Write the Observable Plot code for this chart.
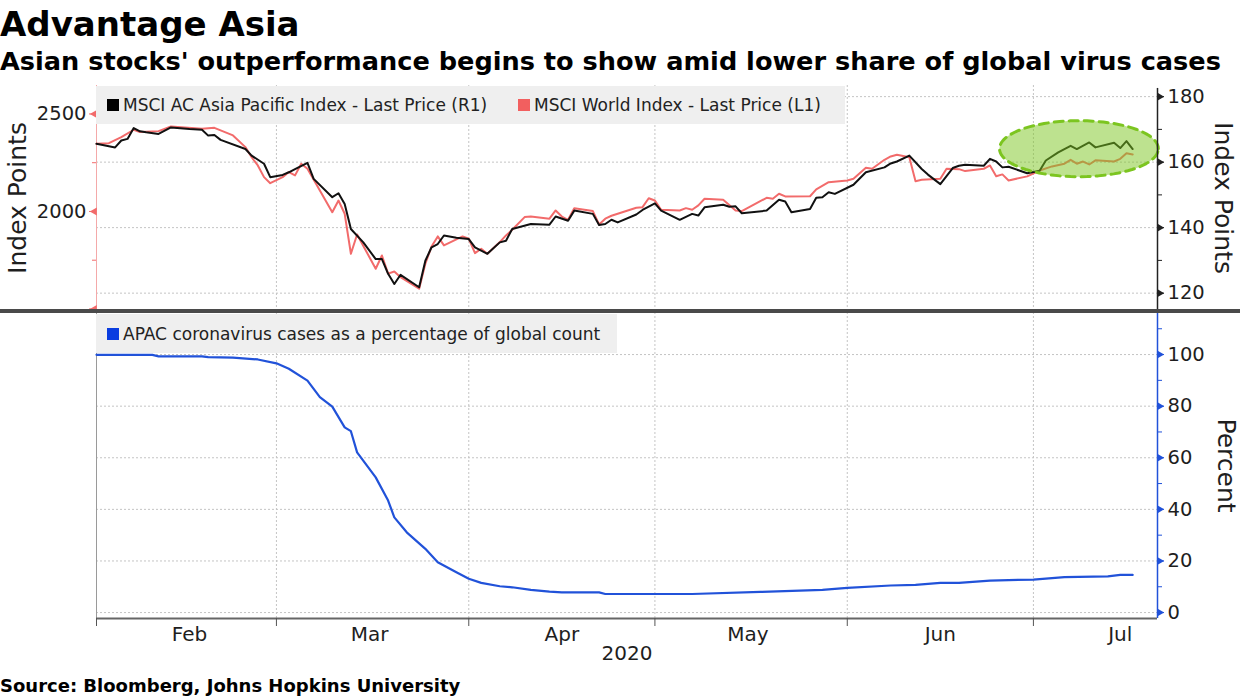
<!DOCTYPE html>
<html>
<head>
<meta charset="utf-8">
<script src="https://cdn.jsdelivr.net/npm/d3@7"></script>
<script src="https://cdn.jsdelivr.net/npm/@observablehq/plot@0.6"></script>
<style>
  body { margin: 0; background: #fff; }
  #wrap { position: relative; width: 1240px; height: 697px; overflow: hidden; background: #fff; }
  .abs { position: absolute; }
  #title { left: 0; top: 4px; font: bold 34px "DejaVu Sans", sans-serif; line-height: 40px; color: #000; white-space: nowrap; }
  #subtitle { left: 0; top: 46px; font: bold 25.6px "DejaVu Sans", sans-serif; line-height: 30px; color: #000; white-space: nowrap; }
  #source { left: 0; top: 673px; font: bold 18px "DejaVu Sans", sans-serif; line-height: 26px; color: #000; white-space: nowrap; }
  .legend { background: #efefef; display: flex; align-items: center; font: 17px "DejaVu Sans", sans-serif; color: #222; white-space: nowrap; }
  .sw { display: inline-block; width: 12px; height: 12px; margin: 0 4px 0 11px; flex: none; }
  #sep { left: 0; top: 309px; width: 1240px; height: 4px; background: #4a4a4a; }
  .layer { position: absolute; left: 0; }
</style>
</head>
<body>
<div id="wrap">
  <div id="title" class="abs">Advantage Asia</div>
  <div id="subtitle" class="abs">Asian stocks' outperformance begins to show amid lower share of global virus cases</div>
  <div id="top1" class="layer" style="top:80px"></div>
  <div id="top2" class="layer" style="top:80px"></div>
  <div id="top3" class="layer" style="top:80px"></div>
  <div id="bot" class="layer" style="top:311px"></div>
  <div id="legTop" class="abs legend" style="left:96px;top:86px;width:749px;height:38px;"></div>
  <div id="legBot" class="abs legend" style="left:96px;top:314px;width:521px;height:39px;"></div>
  <div id="sep" class="abs"></div>
  <div id="source" class="abs">Source: Bloomberg, Johns Hopkins University</div>
</div>
<script>
// ---------------- DATA ----------------
const seriesNames = ["MSCI AC Asia Pacific Index - Last Price (R1)", "MSCI World Index - Last Price (L1)"];
const shareName = "APAC coronavirus cases as a percentage of global count";

const apDates = ["2020-02-01","2020-02-04","2020-02-05","2020-02-06","2020-02-07","2020-02-08","2020-02-09","2020-02-11","2020-02-13","2020-02-16",
  "2020-02-18","2020-02-19","2020-02-20","2020-02-21","2020-02-25","2020-02-26","2020-02-28","2020-02-29","2020-03-02","2020-03-03",
  "2020-03-04","2020-03-06","2020-03-07","2020-03-10","2020-03-11","2020-03-12","2020-03-13","2020-03-15","2020-03-17","2020-03-18",
  "2020-03-19","2020-03-20","2020-03-21","2020-03-24","2020-03-25","2020-03-26","2020-03-27","2020-03-28","2020-03-30","2020-04-01",
  "2020-04-02","2020-04-04","2020-04-06","2020-04-07","2020-04-08","2020-04-11","2020-04-14","2020-04-15","2020-04-17","2020-04-18",
  "2020-04-21","2020-04-22","2020-04-23","2020-04-24","2020-04-25","2020-04-28","2020-04-29","2020-05-01","2020-05-02","2020-05-05",
  "2020-05-07","2020-05-08","2020-05-09","2020-05-12","2020-05-13","2020-05-14","2020-05-15","2020-05-19","2020-05-21","2020-05-22",
  "2020-05-23","2020-05-26","2020-05-27","2020-05-28","2020-05-29","2020-05-30","2020-06-02","2020-06-04","2020-06-07","2020-06-08",
  "2020-06-09","2020-06-11","2020-06-13","2020-06-14","2020-06-16","2020-06-18","2020-06-19","2020-06-20","2020-06-23","2020-06-24",
  "2020-06-25","2020-06-26","2020-06-27","2020-06-30","2020-07-02","2020-07-03","2020-07-05","2020-07-07","2020-07-08","2020-07-10",
  "2020-07-11","2020-07-14","2020-07-15","2020-07-16","2020-07-17"];
const apValues = [165.6,164.5,166.6,167.1,170.4,169.4,169.1,168.6,170.6,170.1,
  169.9,168.1,168.3,166.8,164.0,162.0,159.5,155.4,156.1,156.9,
  157.9,159.8,154.9,149.3,150.5,147.2,139.6,135.5,130.4,130.4,
  125.9,122.8,125.6,121.8,129.9,134.0,135.0,137.6,136.9,136.5,
  134.0,132.0,135.5,136.0,139.6,141.1,140.9,143.4,142.1,145.2,
  144.2,140.8,141.1,142.4,141.6,144.0,145.4,147.4,145.2,142.4,
  144.2,143.7,146.2,147.0,146.4,146.5,144.4,145.2,148.5,148.0,
  144.7,145.7,149.1,149.3,150.8,150.3,153.1,156.9,158.4,159.6,
  160.2,162.0,157.9,156.2,153.3,158.2,158.9,159.2,158.9,161.0,
  160.2,158.4,158.6,156.6,157.4,160.5,163.0,165.0,164.0,166.0,
  164.5,165.9,164.3,166.4,164.0];

const worldDates = ["2020-02-01","2020-02-03","2020-02-05","2020-02-07","2020-02-08","2020-02-11","2020-02-13","2020-02-18","2020-02-20","2020-02-23",
  "2020-02-25","2020-02-26","2020-02-27","2020-02-28","2020-02-29","2020-03-02","2020-03-03","2020-03-04","2020-03-05","2020-03-06",
  "2020-03-10","2020-03-11","2020-03-12","2020-03-13","2020-03-14","2020-03-17","2020-03-18","2020-03-19","2020-03-20","2020-03-21",
  "2020-03-24","2020-03-25","2020-03-26","2020-03-27","2020-03-28","2020-03-31","2020-04-01","2020-04-02","2020-04-03","2020-04-04",
  "2020-04-06","2020-04-07","2020-04-08","2020-04-10","2020-04-11","2020-04-14","2020-04-15","2020-04-16","2020-04-17","2020-04-18",
  "2020-04-21","2020-04-22","2020-04-23","2020-04-24","2020-04-28","2020-04-29","2020-04-30","2020-05-01","2020-05-02","2020-05-05",
  "2020-05-06","2020-05-07","2020-05-08","2020-05-09","2020-05-12","2020-05-14","2020-05-15","2020-05-19","2020-05-20","2020-05-21",
  "2020-05-22","2020-05-26","2020-05-27","2020-05-29","2020-06-01","2020-06-02","2020-06-04","2020-06-05","2020-06-07","2020-06-08",
  "2020-06-09","2020-06-11","2020-06-12","2020-06-13","2020-06-16","2020-06-17","2020-06-19","2020-06-20","2020-06-23","2020-06-24",
  "2020-06-25","2020-06-26","2020-06-27","2020-06-30","2020-07-02","2020-07-04","2020-07-06","2020-07-07","2020-07-08","2020-07-09",
  "2020-07-10","2020-07-11","2020-07-14","2020-07-15","2020-07-16","2020-07-17"];
const worldValues = [2347,2350,2381,2419,2407,2412,2436,2424,2429,2390,
  2330,2278,2236,2176,2145,2176,2202,2185,2245,2219,
  1996,2056,1988,1783,1882,1706,1774,1681,1692,1663,
  1604,1732,1820,1872,1826,1872,1860,1786,1809,1783,
  1843,1877,1906,1971,1974,1963,2005,1974,1957,2017,
  2002,1933,1963,1978,2019,2022,2068,2056,2009,2005,
  2017,2009,2031,2065,2060,2005,2002,2070,2065,2091,
  2077,2078,2113,2150,2159,2168,2224,2219,2265,2282,
  2291,2278,2155,2163,2168,2219,2217,2207,2219,2236,
  2181,2190,2159,2180,2210,2231,2245,2265,2245,2256,
  2241,2262,2256,2270,2299,2292];

const shareDates = ["2020-02-01","2020-02-10","2020-02-11","2020-02-18","2020-02-19","2020-02-23","2020-02-27","2020-03-01","2020-03-03","2020-03-06",
  "2020-03-08","2020-03-10","2020-03-12","2020-03-13","2020-03-14","2020-03-17","2020-03-19","2020-03-20","2020-03-22","2020-03-25",
  "2020-03-27","2020-03-30","2020-04-01","2020-04-03","2020-04-06","2020-04-08","2020-04-11","2020-04-14","2020-04-16","2020-04-22",
  "2020-04-23","2020-05-07","2020-05-18","2020-05-28","2020-06-01","2020-06-08","2020-06-12","2020-06-16","2020-06-19","2020-06-24",
  "2020-07-01","2020-07-06","2020-07-13","2020-07-15","2020-07-17"];
const shareValues = [99.9,99.9,99.3,99.3,99.0,98.8,98.1,96.6,94.5,89.9,
  83.5,79.8,71.8,70.3,62.1,52.4,43.4,36.9,31.1,24.7,
  19.5,15.6,13.1,11.5,10.2,9.8,8.8,8.1,7.8,7.8,
  7.2,7.2,8.0,8.8,9.6,10.5,10.7,11.5,11.5,12.4,
  12.8,13.7,14.0,14.6,14.6];

const leftTicks = [2000, 2500];
const leftUnlabeledTicks = [1500];
const leftMinorTicks = [1750, 2250];
const rightTicks = [120, 140, 160, 180];
const rightMinorTicks = [130, 150, 170];
const pctTicks = [0, 20, 40, 60, 80, 100];
const pctMinorTicks = [10, 30, 50, 70, 90, 110];
const monthStarts = ["2020-02-01","2020-03-01","2020-04-01","2020-05-01","2020-06-01","2020-07-01"];
const monthLabelDates = ["2020-02-16","2020-03-16","2020-04-16","2020-05-16","2020-06-16","2020-07-15"];
const yearLabel = "2020";
const leftTitle = "Index Points", rightTitle = "Index Points", pctTitle = "Percent";

// highlight ellipse (annotation) in data units of the right axis
const ellipseCenter = {date: "2020-07-08T08:00:00Z", value: 164.1};
const ellipseRadius = {days: 12.8, points: 8.55};

// domains
const xDomain = [new Date("2020-02-01"), new Date("2020-07-21")];
const apDomain = [114.7, 183.4];
const worldDomain = [1492, 2646];
const pctDomain = [-2.3, 116.3];

// ---------------- STYLE ----------------
const RED = "#f26b6b", BLACK = "#111", BLUE = "#2152d9", GRID = "#c4c4c4", TXT = "#1e1e1e";
const FONT = "'DejaVu Sans', sans-serif";
const TICKFS = 19.5;
const common = {
  width: 1240, marginLeft: 96, marginRight: 83,
  style: {background: "transparent", fontFamily: FONT, overflow: "visible", color: TXT}
};
const X = {type: "utc", domain: xDomain, axis: null};
const dotted = {stroke: GRID, strokeDasharray: "2,2", strokeWidth: 1};
const months = monthStarts.map(d => new Date(d));
const fmt = d => String(d);

// ---------------- TOP PANEL ----------------
const topDims = {height: 232, marginTop: 5, marginBottom: 2};

const top1 = Plot.plot({
  ...common, ...topDims, x: X, y: {domain: apDomain, axis: null},
  marks: [
    Plot.ruleY(rightTicks, dotted),
    Plot.ruleX(months.slice(1), dotted)
  ]
});

const top2 = Plot.plot({
  ...common, ...topDims, x: X, y: {domain: worldDomain, axis: null},
  marks: [
    Plot.ruleX([xDomain[0]], {stroke: "#f4a9a9", strokeWidth: 1}),
    Plot.line(worldValues, {x: (d, i) => new Date(worldDates[i]), y: d => d, stroke: RED, strokeWidth: 2}),
    Plot.axisY(leftTicks, {anchor: "left", label: null, tickSize: 7, tickPadding: 3, stroke: RED, fill: TXT, fontSize: TICKFS, tickFormat: fmt}),
    Plot.axisY(leftUnlabeledTicks, {anchor: "left", label: null, tickSize: 7, stroke: RED, tickFormat: () => ""}),
    Plot.axisY(leftMinorTicks, {anchor: "left", label: null, tickSize: 4, stroke: RED, tickFormat: () => ""}),
    Plot.dot(leftTicks.concat(leftUnlabeledTicks), {y: d => d, frameAnchor: "left", symbol: "triangle", rotate: -90, r: 3, fill: RED, dx: -2}),
    Plot.text([leftTitle], {frameAnchor: "left", textAnchor: "middle", lineAnchor: "middle", dx: -79, rotate: -90, fontSize: 25, fill: TXT})
  ]
});

const eN = 90;
const ellipsePts = d3.range(eN + 1).map(k => {
  const t = (k / eN) * 2 * Math.PI;
  return {
    date: new Date(new Date(ellipseCenter.date).getTime() + Math.cos(t) * ellipseRadius.days * 864e5),
    value: ellipseCenter.value + Math.sin(t) * ellipseRadius.points
  };
});

const top3 = Plot.plot({
  ...common, ...topDims, x: X, y: {domain: apDomain, axis: null},
  marks: [
    Plot.line(apValues, {x: (d, i) => new Date(apDates[i]), y: d => d, stroke: BLACK, strokeWidth: 2}),
    Plot.line(ellipsePts, {x: "date", y: "value", fill: "#7cc520", fillOpacity: 0.5, stroke: "none", curve: "linear-closed"}),
    Plot.line(ellipsePts, {x: "date", y: "value", stroke: "#7cc520", strokeWidth: 3, strokeDasharray: "9,6", curve: "linear-closed"}),
    Plot.ruleX([xDomain[1]], {stroke: "#222", strokeWidth: 1.5, y1: apDomain[0], y2: 182.5}),
    Plot.axisY(rightTicks, {anchor: "right", label: null, tickSize: 6, tickPadding: 4, stroke: "#222", fill: TXT, fontSize: TICKFS, tickFormat: fmt}),
    Plot.axisY(rightMinorTicks, {anchor: "right", label: null, tickSize: 4, stroke: "#222", tickFormat: () => ""}),
    Plot.dot(rightTicks, {y: d => d, frameAnchor: "right", symbol: "triangle", rotate: 90, r: 3, fill: "#222", dx: 2}),
    Plot.text([rightTitle], {frameAnchor: "right", textAnchor: "middle", lineAnchor: "middle", dx: 65, rotate: 90, fontSize: 25, fill: TXT})
  ]
});

document.getElementById("top1").append(top1);
document.getElementById("top2").append(top2);
document.getElementById("top3").append(top3);

// ---------------- BOTTOM PANEL ----------------
const bot = Plot.plot({
  ...common, height: 367, marginTop: 1, marginBottom: 60,
  x: X, y: {domain: pctDomain, axis: null},
  marks: [
    Plot.ruleY(pctTicks, dotted),
    Plot.ruleX(months.slice(1), dotted),
    Plot.ruleX([xDomain[0]], {stroke: "#9a9a9a", strokeWidth: 1}),
    Plot.line(shareValues, {x: (d, i) => new Date(shareDates[i]), y: d => d, stroke: BLUE, strokeWidth: 2.2}),
    Plot.ruleY([pctDomain[0]], {stroke: "#666", strokeWidth: 2}),
    Plot.ruleX([xDomain[1]], {stroke: BLUE, strokeWidth: 1.5}),
    Plot.axisY(pctTicks, {anchor: "right", label: null, tickSize: 6, tickPadding: 4, stroke: BLUE, fill: TXT, fontSize: TICKFS, tickFormat: fmt}),
    Plot.axisY(pctMinorTicks, {anchor: "right", label: null, tickSize: 4, stroke: BLUE, tickFormat: () => ""}),
    Plot.dot(pctTicks, {y: d => d, frameAnchor: "right", symbol: "triangle", rotate: 90, r: 3, fill: BLUE, dx: 2}),
    Plot.text([pctTitle], {frameAnchor: "right", textAnchor: "middle", lineAnchor: "middle", dx: 68, rotate: 90, fontSize: 25, fill: TXT}),
    Plot.axisX(months, {label: null, tickSize: 8, stroke: "#555", tickFormat: () => ""}),
    Plot.axisX(monthLabelDates.map(d => new Date(d)), {label: null, tickSize: 0, tickPadding: 8, tickFormat: "%b", fontSize: 20, fill: TXT}),
    Plot.text([yearLabel], {frameAnchor: "bottom", textAnchor: "middle", dy: 41, fontSize: 20, fill: TXT})
  ]
});
document.getElementById("bot").append(bot);

// ---------------- LEGENDS ----------------
function legendItem(color, label, width) {
  const w = width ? `display:inline-block;width:${width}px;` : "";
  return `<span class="sw" style="background:${color}"></span><span style="${w}">${label}</span>`;
}
document.getElementById("legTop").innerHTML =
  legendItem("#000", seriesNames[0], 379) + `<span style="display:inline-block;width:5px"></span>` + legendItem("#f25f5f", seriesNames[1]);
document.getElementById("legBot").innerHTML = legendItem("#0a3de0", shareName);
</script>
</body>
</html>
